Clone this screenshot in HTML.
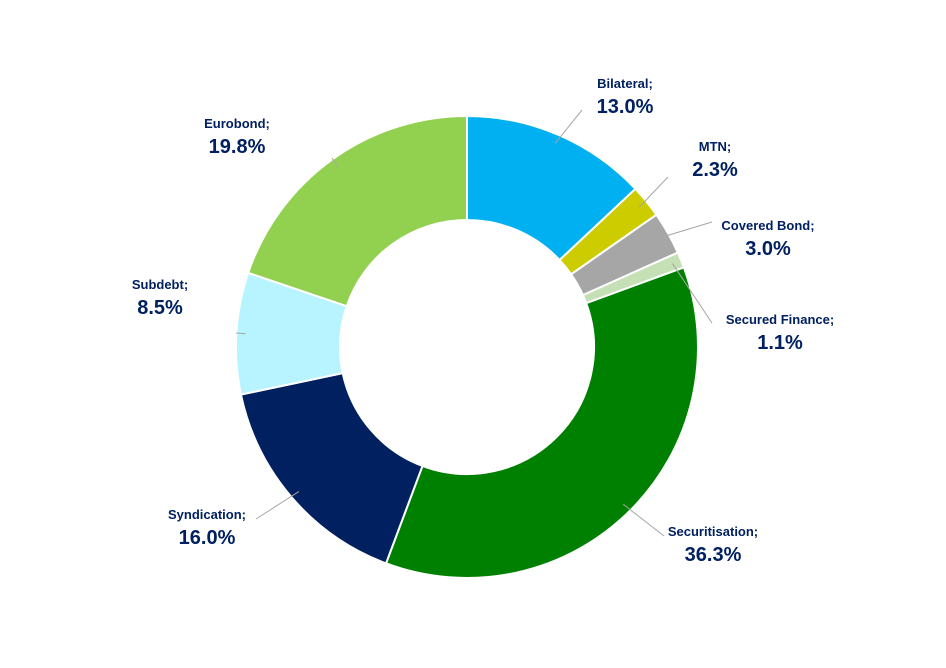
<!DOCTYPE html>
<html><head><meta charset="utf-8"><style>
html,body{margin:0;padding:0;background:#fff;}
svg{display:block;font-family:"Liberation Sans",sans-serif;}
</style></head><body>
<svg id="chart" width="946" height="668" viewBox="0 0 946 668">
<g id="slices"></g>
<g id="labels"></g>
</svg>
<script>
const categories = ["Bilateral","MTN","Covered Bond","Secured Finance","Securitisation","Syndication","Subdebt","Eurobond"];
const values = [13.0,2.3,3.0,1.1,36.3,16.0,8.5,19.8];
const valueLabels = ["13.0%","2.3%","3.0%","1.1%","36.3%","16.0%","8.5%","19.8%"];
const colors = ["#00B0F0","#CCCC00","#A6A6A6","#C5E0B4","#008000","#002060","#B7F4FF","#92D050"];
// label layout (presentation)
const labelPos = [[625,88],[715,151],[768,230],[780,324],[713,536],[207,519],[160,289],[237,128]];
const lineEnd = [[582,110],[668,177],[712,222],[712,323],[664,536],[256,519],[236,333],[332,158]];
const cx=467, cy=347, R=231, r=127;
const ns="http://www.w3.org/2000/svg";
const gS=document.getElementById('slices'), gL=document.getElementById('labels');
const total=values.reduce((a,b)=>a+b,0);
function pt(a,rad){return [cx+rad*Math.sin(a), cy-rad*Math.cos(a)];}
let acc=0;
values.forEach((v,i)=>{
  const a0=acc/total*2*Math.PI; acc+=v; const a1=acc/total*2*Math.PI;
  const large=(a1-a0)>Math.PI?1:0;
  const p0=pt(a0,R),p1=pt(a1,R),q1=pt(a1,r),q0=pt(a0,r);
  const path=document.createElementNS(ns,'path');
  path.setAttribute('d',`M${p0[0]},${p0[1]} A${R},${R} 0 ${large} 1 ${p1[0]},${p1[1]} L${q1[0]},${q1[1]} A${r},${r} 0 ${large} 0 ${q0[0]},${q0[1]} Z`);
  path.setAttribute('fill',colors[i]);path.setAttribute('stroke','#fff');path.setAttribute('stroke-width','2');
  
  
  gS.appendChild(path);
  const mid=(a0+a1)/2, s=pt(mid,R*0.96);
  const ln=document.createElementNS(ns,'polyline');
  ln.setAttribute('points',`${s[0]},${s[1]} ${lineEnd[i][0]},${lineEnd[i][1]}`);
  ln.setAttribute('stroke','#A6A6A6');ln.setAttribute('fill','none');ln.setAttribute('stroke-width','1');
  
  
  gL.appendChild(ln);
  const t=document.createElementNS(ns,'text');
  t.setAttribute('x',labelPos[i][0]);t.setAttribute('y',labelPos[i][1]);
  t.setAttribute('text-anchor','middle');t.setAttribute('fill','#002060');t.setAttribute('font-weight','bold');
  
  
  const s1=document.createElementNS(ns,'tspan');s1.setAttribute('font-size','13');s1.textContent=categories[i]+';';
  const s2=document.createElementNS(ns,'tspan');s2.setAttribute('font-size','20');s2.setAttribute('x',labelPos[i][0]);s2.setAttribute('dy','25');s2.textContent=valueLabels[i];
  t.appendChild(s1);t.appendChild(s2);gL.appendChild(t);
});
</script>
</body></html>
